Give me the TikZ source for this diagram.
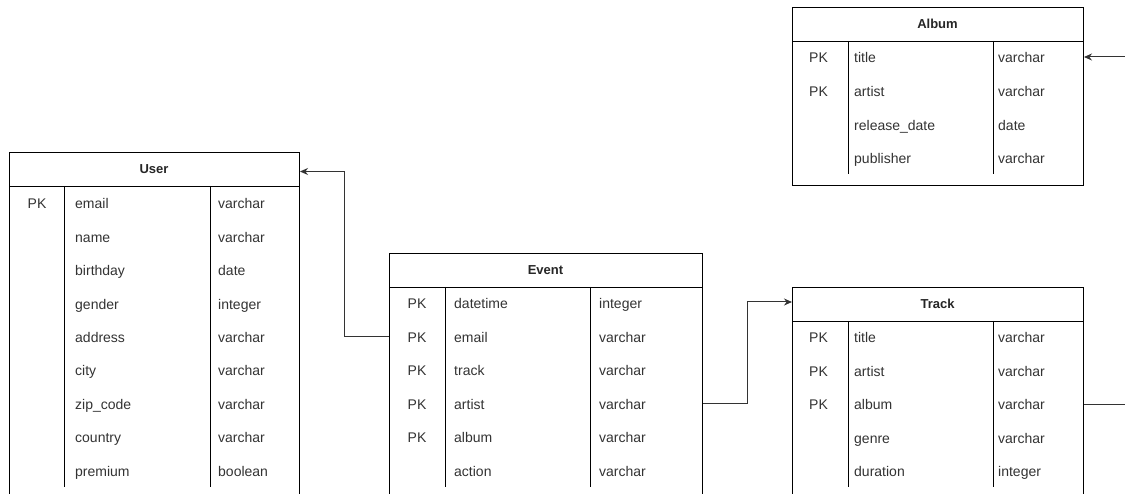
\documentclass[tikz,border=0pt]{standalone}
\usepackage{fontspec}
\setmainfont{Liberation Sans}
\usetikzlibrary{arrows.meta}
\tikzset{
  x=1pt, y=-1pt,
  tbl/.style={draw=black, line width=1pt, anchor=north west, inner sep=0pt},
  hdr/.style={draw=black, line width=1pt, anchor=north west, inner sep=0pt},
  hdrtext/.style={anchor=base, inner sep=0pt, font=\fontsize{13}{15}\selectfont\bfseries, text=black!85},
  coldiv/.style={draw=black, line width=1pt},
  pk/.style={anchor=base, inner sep=0pt, font=\fontsize{14}{16}\selectfont, text=black!80},
  fld/.style={anchor=base west, inner sep=0pt, font=\fontsize{14}{16}\selectfont, text=black!80},
  conn/.style={draw=black!80, line width=1pt, -{Stealth[length=8pt,width=7pt]}}
}
\begin{document}
\begin{tikzpicture}
\useasboundingbox (0,0) rectangle (1125,494);
\clip (0,0) rectangle (1125,494);
\fill[white] (0,0) rectangle (1125,494);

% ---------- User ----------
\node[tbl, minimum width=290pt, minimum height=346pt] (user) at (9,152) {};
\node[hdr, minimum width=290pt, minimum height=34pt] (userh) at (9,152) {};
\node[hdrtext] (usert) at (154,173.5) {User};
\draw[coldiv] (64,186) -- (64,487);
\draw[coldiv] (210,186) -- (210,487);
\node[pk] (upk) at (37,208.5) {PK};
\foreach \n/\t/\y in {email/varchar/203, name/varchar/237, birthday/date/270, gender/integer/304, address/varchar/337, city/varchar/370, zip\_code/varchar/404, country/varchar/437, premium/boolean/471}{
  \node[fld] at (75,\y+5.5) {\n};
  \node[fld] at (218,\y+5.5) {\t};
}

% ---------- Event ----------
\node[tbl, minimum width=313pt, minimum height=245pt] (event) at (389,253) {};
\node[hdr, minimum width=313pt, minimum height=34pt] (eventh) at (389,253) {};
\node[hdrtext] (eventt) at (545.5,274.5) {Event};
\draw[coldiv] (445,287) -- (445,487);
\draw[coldiv] (590,287) -- (590,487);
\foreach \p/\n/\t/\y/\id in {PK/datetime/integer/303/edatetime, PK/email/varchar/337/eemail, PK/track/varchar/370/etrack, PK/artist/varchar/404/eartist, PK/album/varchar/437/ealbum, /action/varchar/471/eaction}{
  \node[pk] at (417,\y+5.5) {\p};
  \node[fld] (\id) at (454,\y+5.5) {\n};
  \node[fld] at (599,\y+5.5) {\t};
}

% ---------- Album ----------
\node[tbl, minimum width=291pt, minimum height=178pt] (album) at (792,7) {};
\node[hdr, minimum width=291pt, minimum height=34pt] (albumh) at (792,7) {};
\node[hdrtext] (albumt) at (937.5,28.5) {Album};
\draw[coldiv] (848,41) -- (848,174);
\draw[coldiv] (993,41) -- (993,174);
\foreach \p/\n/\t/\y/\id in {PK/title/varchar/57/atitle, PK/artist/varchar/91/aartist, /release\_date/date/125/adate, /publisher/varchar/158/apub}{
  \node[pk] at (818.5,\y+5.5) {\p};
  \node[fld] (\id) at (854,\y+5.5) {\n};
  \node[fld] at (998,\y+5.5) {\t};
}

% ---------- Track ----------
\node[tbl, minimum width=291pt, minimum height=211pt] (track) at (792,287) {};
\node[hdr, minimum width=291pt, minimum height=34pt] (trackh) at (792,287) {};
\node[hdrtext] (trackt) at (937.5,308.5) {Track};
\draw[coldiv] (848,321) -- (848,487);
\draw[coldiv] (993,321) -- (993,487);
\foreach \p/\n/\t/\y/\id in {PK/title/varchar/337/ttitle, PK/artist/varchar/371/tartist, PK/album/varchar/404/talbum, /genre/varchar/438/tgenre, /duration/integer/471/tduration}{
  \node[pk] at (818.5,\y+5.5) {\p};
  \node[fld] (\id) at (854,\y+5.5) {\n};
  \node[fld] at (998,\y+5.5) {\t};
}

% ---------- Connectors ----------
\coordinate (c1) at (344,0);
\coordinate (u1) at (0,171.5);
\coordinate (e1) at (0,337);
\draw[conn] (event.west |- e1) -| (c1 |- u1) -- (userh.east |- u1);
\coordinate (c2) at (747,0);
\coordinate (e2) at (0,403.5);
\coordinate (t2) at (0,302);
\draw[conn] (event.east |- e2) -| (c2 |- t2) -- (trackh.west |- t2);
\coordinate (c3) at (1145,0);
\coordinate (t3) at (0,404);
\coordinate (a3) at (0,57);
\draw[conn] (track.east |- t3) -| (c3 |- a3) -- (album.east |- a3);
\end{tikzpicture}
\end{document}
